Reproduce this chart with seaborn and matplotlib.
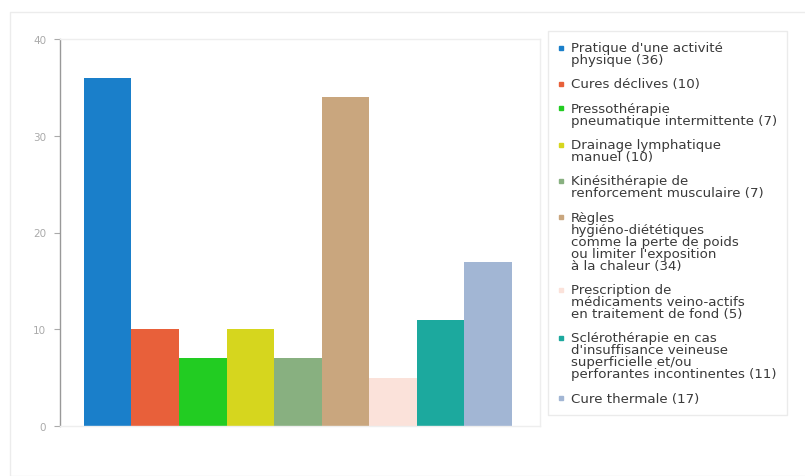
import matplotlib
matplotlib.use("Agg")
import matplotlib.pyplot as plt
import seaborn as sns
import pandas as pd
from matplotlib.lines import Line2D
from matplotlib.patches import Rectangle

categories = [
    "Pratique d'une activité\nphysique (36)",
    "Cures déclives (10)",
    "Pressothérapie\npneumatique intermittente (7)",
    "Drainage lymphatique\nmanuel (10)",
    "Kinésithérapie de\nrenforcement musculaire (7)",
    "Règles\nhygiéno-diététiques\ncomme la perte de poids\nou limiter l'exposition\nà la chaleur (34)",
    "Prescription de\nmédicaments veino-actifs\nen traitement de fond (5)",
    "Sclérothérapie en cas\nd'insuffisance veineuse\nsuperficielle et/ou\nperforantes incontinentes (11)",
    "Cure thermale (17)",
]
values = [36, 10, 7, 10, 7, 34, 5, 11, 17]
colors = ["#1a7fca", "#e8603a", "#22cc22", "#d6d61e", "#88b080",
          "#c9a67e", "#fbe2da", "#1ca99e", "#a2b6d4"]
yticks = [0, 10, 20, 30, 40]

df = pd.DataFrame({"cat": categories, "val": values})

sns.set_style("white")
plt.rcParams['font.family'] = ['DejaVu Sans']

DPI = 100
fig = plt.figure(figsize=(8.05, 4.77), dpi=DPI)
fig.patches.append(Rectangle((10/805, 0), 1, 1 - 13/477, transform=fig.transFigure,
                             fill=False, edgecolor="#ececec", linewidth=1))

ax = fig.add_axes([60/805, 1 - 427/477, 480/805, 387/477])
sns.barplot(data=df, x="cat", y="val", hue="cat", palette=colors,
            width=1.0, legend=False, ax=ax, saturation=1, linewidth=0)

ax.set_xlim(-1.0, 9.09)
ax.set_ylim(0, 40)
ax.set_yticks(yticks)
ax.set_xticks([])
ax.set_xlabel("")
ax.set_ylabel("")
for s in ["top", "right", "bottom"]:
    ax.spines[s].set_color("#eeeeee")
    ax.spines[s].set_linewidth(1)
ax.spines["left"].set_color("#999999")
ax.spines["left"].set_linewidth(1)
ax.tick_params(axis="y", colors="#aaaaaa", labelsize=7.5, length=4, width=0.8,
               left=True, pad=6)
for t in ax.get_yticklabels():
    t.set_color("#aaaaaa")

handles = [Line2D([0], [0], marker="s", linestyle="", markersize=3,
                  markerfacecolor=c, markeredgecolor=c) for c in colors]
FS = 9.6
leg = fig.legend(handles, categories, loc="upper left",
                 bbox_to_anchor=(548/805, 1 - 32/477), frameon=True,
                 fontsize=FS, labelspacing=0.85, handlelength=0.4,
                 handletextpad=0.55, borderpad=0.75, borderaxespad=0,
                 fancybox=False)
leg.get_frame().set_edgecolor("#e6e6e6")
leg.get_frame().set_linewidth(1)
for t in leg.get_texts():
    t.set_color("#3a3a3a")
    t.set_linespacing(0.9)

# align each marker with the first line of its label
fig.canvas.draw()
r = fig.canvas.get_renderer()
for h, t in zip(leg.legend_handles, leg.get_texts()):
    bb = t.get_window_extent(r)
    x0, y0 = h.get_xdata()[0], h.get_ydata()[0]
    cur = h.get_transform().transform((x0, y0))[1]
    target = bb.y1 - 6.5
    shift = (target - cur) * 72.0 / DPI
    h.set_ydata([y0 + shift])

fig.savefig("out.png", dpi=DPI)
